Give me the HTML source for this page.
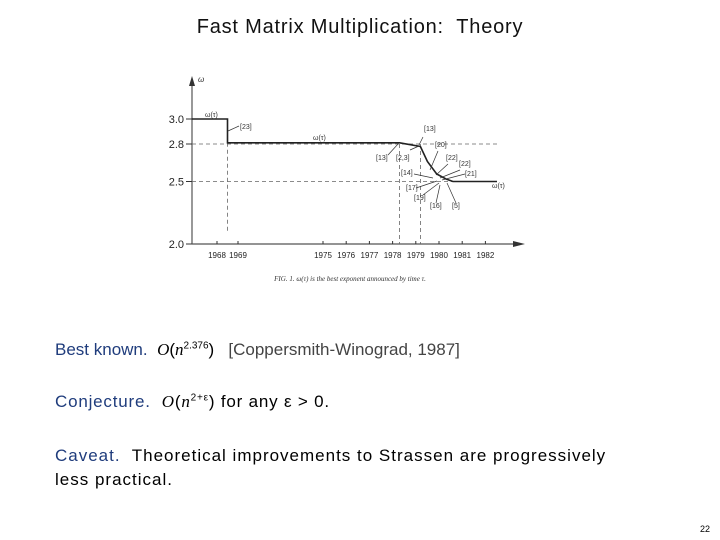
<!DOCTYPE html>
<html><head><meta charset="utf-8">
<style>
html,body{margin:0;padding:0;background:#fff;}
body{width:720px;height:540px;position:relative;overflow:hidden;font-family:"Liberation Sans",sans-serif;}
.t{position:absolute;white-space:nowrap;}
.blue{color:#1f3c7c;}
.m{font-family:"Liberation Serif",serif;font-style:italic;}
sup{font-size:10px;}
</style></head>
<body>
<div class="t" style="left:0;width:720px;text-align:center;top:16px;font-size:20px;letter-spacing:0.8px;color:#111;">Fast Matrix Multiplication:&nbsp; Theory</div>

<svg id="chart" width="720" height="300" style="position:absolute;left:0;top:0;" font-family="Liberation Sans, sans-serif"></svg>

<div class="t" style="left:55px;top:340px;font-size:17px;"><span class="blue">Best known.</span>&nbsp; <span class="m">O</span>(<span class="m">n</span><sup>2.376</sup>) &nbsp; <span style="color:#444">[Coppersmith-Winograd, 1987]</span></div>
<div class="t" style="left:55px;top:392px;font-size:17px;letter-spacing:0.8px;"><span class="blue">Conjecture.</span>&nbsp; <span class="m">O</span>(<span class="m">n</span><sup>2+ε</sup>) for any ε &gt; 0.</div>
<div class="t" style="left:55px;top:444px;font-size:17px;line-height:24px;letter-spacing:1px;"><span class="blue">Caveat.</span>&nbsp; Theoretical improvements to Strassen are progressively<br>less practical.</div>
<div class="t" style="left:700px;top:524px;font-size:9px;">22</div>

<script>
const stepYears = [1966.8, 1968.5, 1968.5, 1978.3, 1979.2, 1979.5, 1979.9, 1980.3, 1980.6, 1982.5];
const stepOmega = [3.0, 3.0, 2.81, 2.81, 2.78, 2.66, 2.56, 2.52, 2.50, 2.50];
const yTicks = [3.0, 2.8, 2.5, 2.0];
const yTickLabels = ["3.0", "2.8", "2.5", "2.0"];
const xTickYears = [1968, 1969, 1975, 1976, 1977, 1978, 1979, 1980, 1981, 1982];
const dashYears = [1968.5, 1978.3, 1979.2];
const dashOmega = [2.8, 2.5];

const svg = document.getElementById('chart');
const NS = 'http://www.w3.org/2000/svg';
function X(yr){ return yr < 1972 ? 217 + (yr - 1968) * 21 : 323 + (yr - 1975) * 23.2; }
function Y(w){ return 119 + (3.0 - w) * 125; }
function mk(tag, attrs, parent){ const e = document.createElementNS(NS, tag); for (const k in attrs) e.setAttribute(k, attrs[k]); (parent||svg).appendChild(e); return e; }

const ax = mk('g', {});


mk('line', {x1:192, y1:Y(2.0), x2:192, y2:80, stroke:'#555', 'stroke-width':1.2}, ax);
mk('path', {d:'M189,86 L192,76 L195,86 Z', fill:'#333'}, ax);
mk('text', {x:198, y:82, 'font-size':8, 'font-style':'italic', fill:'#333'}, ax).textContent = 'ω';
mk('line', {x1:192, y1:Y(2.0), x2:520, y2:Y(2.0), stroke:'#555', 'stroke-width':1.2}, ax);
mk('path', {d:'M513,241 L525,244 L513,247 Z', fill:'#333'}, ax);

yTicks.forEach((v,i)=>{
  mk('line', {x1:186, y1:Y(v), x2:192, y2:Y(v), stroke:'#333'}, ax);
  const t = mk('text', {x:184, y:Y(v)+4, 'font-size':11, 'text-anchor':'end', fill:'#222'}, ax);
  t.textContent = yTickLabels[i];
  
  
});
xTickYears.forEach(yr=>{
  mk('line', {x1:X(yr), y1:Y(2.0)-3, x2:X(yr), y2:Y(2.0), stroke:'#333'}, ax);
  const t = mk('text', {x:X(yr), y:258, 'font-size':8, 'text-anchor':'middle', fill:'#222'}, ax);
  t.textContent = String(yr);
  
  
});

const dg = mk('g', {stroke:'#666', 'stroke-width':0.8, 'stroke-dasharray':'4,3', fill:'none'});


dashOmega.forEach(w=>{
  const l = mk('line', {x1:192, y1:Y(w), x2:X(1982.5), y2:Y(w)}, dg);
  
  
});
dashYears.forEach((yr,i)=>{
  const l = mk('line', {x1:X(yr), y1:i==0?Y(2.81):Y(2.8), x2:X(yr), y2:i==0?232:Y(2.0)}, dg);
  
  
});

let d = '';
stepYears.forEach((yr,i)=>{ d += (i?'L':'M') + X(yr).toFixed(1) + ',' + Y(stepOmega[i]).toFixed(1) + ' '; });
const line = mk('path', {d:d, stroke:'#222', 'stroke-width':1.6, fill:'none'});



const lab = mk('g', {'font-size':7, fill:'#333'});


[['ω(τ)',205,117],['[23]',240,129],['ω(τ)',313,140],['[13]',424,131],['[20]',435,147],['[22]',446,160],['[22]',459,166],['[21]',465,176],['[13]',376,160],['[2,3]',396,160],['[14]',401,175],['[17]',406,190],['[19]',414,200],['[16]',430,208],['[5]',452,208],['ω(τ)',492,188]].forEach(a=>{
  mk('text', {x:a[1], y:a[2]}, lab).textContent = a[0];
});
const ar = mk('g', {stroke:'#333', 'stroke-width':0.7, fill:'none'});


[[239,126,228,131],[388,155,398,144],[410,150,419,146],[423,137,419,145],[438,151,430,170],[448,164,436,175],[460,170,440,178],[465,174,442,180],[414,174,433,178],[416,188,437,181],[423,195,439,183],[436,203,440,185],[456,203,447,183]].forEach(a=>{
  mk('line', {x1:a[0], y1:a[1], x2:a[2], y2:a[3]}, ar);
});

const cap = mk('text', {x:350, y:281, 'font-size':7, 'text-anchor':'middle', 'font-style':'italic', fill:'#333', 'font-family':'Liberation Serif, serif'});
cap.textContent = 'FIG. 1.  ω(τ) is the best exponent announced by time τ.';


</script>
</body></html>
